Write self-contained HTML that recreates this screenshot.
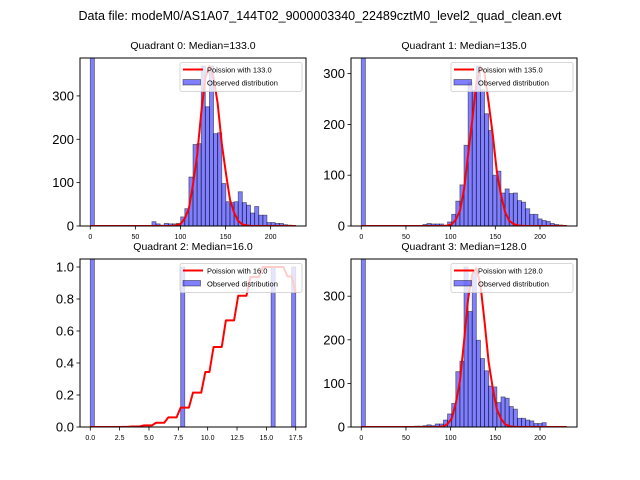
<!DOCTYPE html>
<html><head><meta charset="utf-8"><style>
body{margin:0;background:#fff;}
svg{display:block;font-family:"Liberation Sans","DejaVu Sans",sans-serif;}
</style></head><body>
<svg id="fig" width="640" height="480" viewBox="0 0 640 480" xmlns="http://www.w3.org/2000/svg">
<rect width="640" height="480" fill="#fff"/>
<text x="320" y="20" text-anchor="middle" font-size="12.5">Data file: modeM0/AS1A07_144T02_9000003340_22489cztM0_level2_quad_clean.evt</text>
</svg>
<script>
const q0Counts=[2000,0,0,0,0,0,0,0,0,0,0,0,0,0,0,10,5,2,6,5,5,6,21,40,113,188,190,369,275,369,213,215,98,56,54,56,79,54,48,30,45,25,25,8,8,6,6,3,2,1];
const q1Counts=[2000,0,0,0,0,0,0,0,0,0,0,0,0,0,0,3,5,4,4,4,1,8,23,49,81,159,283,267,315,268,221,188,100,108,65,73,64,65,50,47,34,23,23,14,11,9,5,3,2,1];
const q2Counts=[2,0,0,0,0,0,0,0,0,0,0,0,0,0,0,0,0,0,0,0,0,0,1,0,0,0,0,0,0,0,0,0,0,0,0,0,0,0,0,0,0,0,0,0,1,0,0,0,0,1];
const q3Counts=[2000,0,0,0,0,0,0,0,0,0,0,0,0,2,2,3,5,3,7,7,16,30,54,127,151,367,265,355,199,157,129,94,92,56,69,66,47,41,20,20,16,14,8,8,10,1,0,0,0,0];
const dataMax=[227.8,229.9,17.5,229.9];
const medians=[133.0,135.0,16.0,128.0];
const xTicksTop=[0,50,100,150,200];
const xTicksQ2=[0,2.5,5,7.5,10,12.5,15,17.5];
const yTicksCounts=[0,100,200,300];
const yTicksQ2=[0,0.2,0.4,0.6,0.8,1.0];

const NS='http://www.w3.org/2000/svg';
const svg=document.getElementById('fig');
function mk(tag,attrs,parent){const e=document.createElementNS(NS,tag);for(const k in attrs)e.setAttribute(k,attrs[k]);(parent||svg).appendChild(e);return e;}
function lnFact(k){let s=0;for(let i=2;i<=k;i++)s+=Math.log(i);return s;}
function pmf(k,l){return Math.exp(k*Math.log(l)-l-lnFact(k));}

const boxes=[{x0:80,x1:306,y0:58,y1:226},{x0:351,x1:577,y0:58,y1:226},{x0:80,x1:306,y0:259,y1:427},{x0:351,x1:577,y0:259,y1:427}];
const allCounts=[q0Counts,q1Counts,q2Counts,q3Counts];

for(let q=0;q<4;q++){
  const b=boxes[q],counts=allCounts[q],M=dataMax[q],lam=medians[q];
  const nb=counts.length,bw=M/nb;
  const peak=Math.max(...counts.slice(1));
  const yMax=peak*1.05;
  const xMin=-0.05*M,xMaxL=1.05*M;
  const sx=v=>b.x0+(v-xMin)/(xMaxL-xMin)*(b.x1-b.x0);
  const sy=v=>b.y1-v/yMax*(b.y1-b.y0);
  const g=mk('g',{});
  
  
  const cp=mk('clipPath',{id:'cp'+q},g);
  mk('rect',{x:b.x0,y:b.y0,width:b.x1-b.x0,height:b.y1-b.y0},cp);
  const plot=mk('g',{'clip-path':'url(#cp'+q+')'},g);
  for(let i=0;i<nb;i++){
    if(counts[i]<=0)continue;
    const r=mk('rect',{x:sx(i*bw),y:sy(counts[i]),width:sx((i+1)*bw)-sx(i*bw),height:sy(0)-sy(counts[i]),fill:'rgba(0,0,255,0.5)',stroke:'rgba(0,0,0,0.5)','stroke-width':0.8},plot);
    
    
  }
  let maxP=0;for(let k=0;k<=Math.ceil(M)+1;k++)maxP=Math.max(maxP,pmf(k,lam));
  let pts=[];
  for(let i=0;i<=nb;i++){const x=i*bw;pts.push(sx(x).toFixed(2)+','+sy(peak*pmf(Math.round(x),lam)/maxP).toFixed(2));}
  const pl=mk('polyline',{points:pts.join(' '),fill:'none',stroke:'#ff0000','stroke-width':2,'stroke-linejoin':'round'},plot);
  
  
  const fr=mk('rect',{x:b.x0,y:b.y0,width:b.x1-b.x0,height:b.y1-b.y0,fill:'none',stroke:'#000','stroke-width':1},g);
  
  
  const xt=q===2?xTicksQ2:xTicksTop;
  for(const t of xt){
    const x=sx(t);
    mk('line',{x1:x,x2:x,y1:b.y1,y2:b.y1+3.5,stroke:'#000','stroke-width':0.8},g);
    const tx=mk('text',{x:x,y:b.y1+13,'text-anchor':'middle','font-size':7},g);
    tx.textContent=q===2?t.toFixed(1):String(t);
    
    
  }
  const yt=q===2?yTicksQ2:yTicksCounts;
  for(const t of yt){
    const y=sy(t);
    mk('line',{x1:b.x0-3.5,x2:b.x0,y1:y,y2:y,stroke:'#000','stroke-width':0.8},g);
    const ty=mk('text',{x:b.x0-6,y:y+4.5,'text-anchor':'end','font-size':13},g);
    ty.textContent=q===2?t.toFixed(1):String(t);
    
    
  }
  const ti=mk('text',{x:(b.x0+b.x1)/2,y:b.y0-9,'text-anchor':'middle','font-size':10.5},g);
  ti.textContent='Quadrant '+q+': Median='+lam.toFixed(1);
  
  
  const lg=mk('g',{},g);
  
  
  const lx=b.x0+100,ly=b.y0+4.5;
  mk('rect',{x:lx,y:ly,width:b.x1-lx-4,height:29,rx:2,fill:'rgba(255,255,255,0.8)',stroke:'#ccc','stroke-width':0.8},lg);
  mk('line',{x1:lx+3,x2:lx+23,y1:ly+7,y2:ly+7,stroke:'#ff0000','stroke-width':2},lg);
  const t1=mk('text',{x:lx+27,y:ly+9.8,'font-size':7.5},lg);t1.textContent='Poission with '+lam.toFixed(1);
  
  
  mk('rect',{x:lx+3,y:ly+17,width:17.5,height:5.5,fill:'rgba(0,0,255,0.5)',stroke:'rgba(0,0,0,0.5)','stroke-width':0.8},lg);
  const t2=mk('text',{x:lx+27,y:ly+22.8,'font-size':7.5},lg);t2.textContent='Observed distribution';
  
  
}
</script>
</body></html>
